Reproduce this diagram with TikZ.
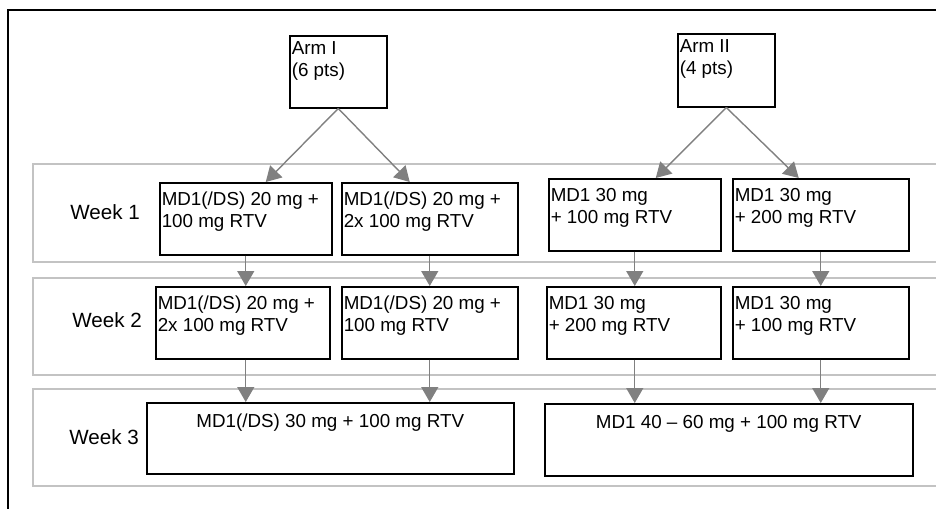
\documentclass[tikz,border=0pt]{standalone}
\usepackage{fontspec}
\setmainfont{Liberation Sans}
\usepackage{xcolor}
\definecolor{bandgray}{RGB}{195,195,195}
\definecolor{flowgray}{RGB}{128,128,128}
\usetikzlibrary{arrows.meta,calc}
% box text: [alignment]{width}{height}{first-line strut}{text}
\newcommand{\celltext}[5][\raggedright]{\parbox[c][#3][t]{#2}{#1\rule{0pt}{#4}#5}}

\begin{document}
\begin{tikzpicture}[x=0.5pt,y=-0.5pt,
      cell/.style={draw,line width=0.75pt,inner sep=1pt,anchor=north west,font=\fontsize{9.4}{11}\selectfont},
      band/.style={draw=bandgray,line width=0.8pt},
      lab/.style={font=\fontsize{10.3}{12}\selectfont},
      flow/.style={-{Triangle[length=7.5pt,width=8.5pt]},line width=0.7pt,flowgray}]
    \useasboundingbox (0,0) rectangle (936,509);
    % outer frame, open to the right and below
    \draw[line width=0.8pt] (936,10) -- (8,10) -- (8,509);
    % one band per week
    \foreach \t/\b in {164/262, 278/375, 389/486} {
      \draw[band] (936,\t) -- (33,\t) -- (33,\b) -- (936,\b);
    }
    \node[lab] (wk1) at (105,212) {Week 1};
    \node[lab] (wk2) at (107,320) {Week 2};
    \node[lab] (wk3) at (104,437) {Week 3};
    % arms
    \node[cell] (arm1) at (289,35) {\celltext{46.5pt}{34pt}{8.5pt}{Arm I\\(6 pts)}};
    \node[cell] (arm2) at (677,33) {\celltext{46.5pt}{34.5pt}{8.5pt}{Arm II\\(4 pts)}};
    % week 1
    \node[cell] (w1a) at (159,182) {\celltext{84pt}{34pt}{10.5pt}{MD1(/DS) 20 mg +\\100 mg RTV}};
    \node[cell] (w1b) at (341,182) {\celltext{86pt}{34pt}{10.5pt}{MD1(/DS) 20 mg +\\2x 100 mg RTV}};
    \node[cell] (w1c) at (548,178) {\celltext{84pt}{34pt}{10.5pt}{MD1 30 mg\\+ 100 mg RTV}};
    \node[cell] (w1d) at (732,178) {\celltext{86pt}{34pt}{10.5pt}{MD1 30 mg\\+ 200 mg RTV}};
    % week 2
    \node[cell] (w2a) at (155,286) {\celltext{85pt}{34pt}{10.5pt}{MD1(/DS) 20 mg +\\2x 100 mg RTV}};
    \node[cell] (w2b) at (341,286) {\celltext{86pt}{34pt}{10.5pt}{MD1(/DS) 20 mg +\\100 mg RTV}};
    \node[cell] (w2c) at (546,286) {\celltext{85pt}{34pt}{10.5pt}{MD1 30 mg\\+ 200 mg RTV}};
    \node[cell] (w2d) at (732,286) {\celltext{86pt}{34pt}{10.5pt}{MD1 30 mg\\+ 100 mg RTV}};
    % week 3
    \node[cell] (w3a) at (146,402) {\celltext[\centering]{181.5pt}{33.5pt}{11.5pt}{MD1(/DS) 30 mg + 100 mg RTV}};
    \node[cell] (w3b) at (544,403) {\celltext[\centering]{182pt}{34pt}{11.5pt}{MD1 40 -- 60 mg + 100 mg RTV}};
    % arms split into the week 1 regimens
    \draw[flow] (arm1.south) -- ([xshift=10pt]w1a.north);
    \draw[flow] (arm1.south) -- ([xshift=-10pt]w1b.north);
    \draw[flow] (arm2.south) -- ([xshift=10.5pt]w1c.north);
    \draw[flow] (arm2.south) -- ([xshift=-11pt]w1d.north);
    % week 1 -> week 2 -> week 3
    \foreach \i/\j/\k in {w1a/w2a/w3a, w1b/w2b/w3a, w1c/w2c/w3b, w1d/w2d/w3b} {
      \draw[flow] (\i.south) -- (\i.south |- \j.north);
      \draw[flow] (\i.south |- \j.south) -- (\i.south |- \k.north);
    }
  \end{tikzpicture}
\end{document}
